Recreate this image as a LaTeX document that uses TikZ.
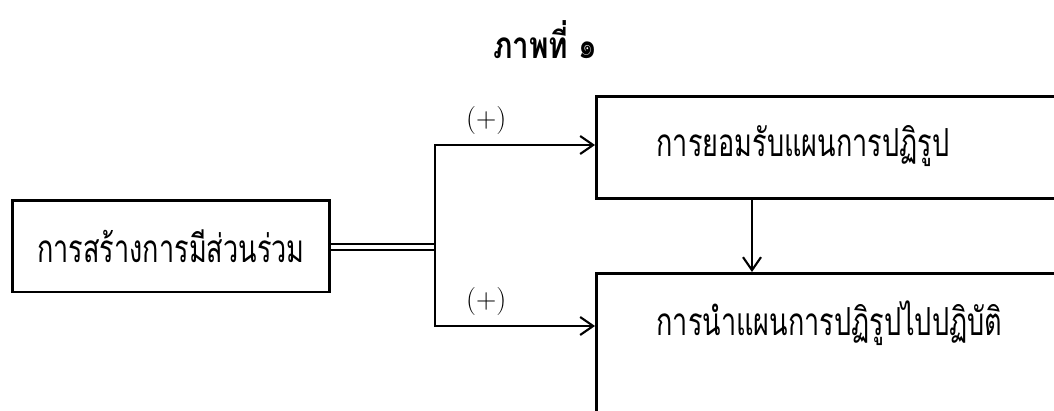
\documentclass[tikz,border=0pt]{standalone}
\usepackage{fontspec}
\newfontfamily\thaifont[Script=Thai,FakeStretch=0.70]{Loma}
\newfontfamily\thaititle[Script=Thai,FakeStretch=0.80]{Loma}
\usetikzlibrary{arrows.meta,positioning}

\begin{document}
\begin{tikzpicture}[
    x=0.02cm, y=-0.02cm,
    font=\thaifont\fontsize{22}{26}\selectfont,
    box/.style={draw, line width=1.7pt, inner sep=0pt},
    sidebox/.style={box, anchor=north west, align=left, inner xsep=1.2cm, inner ysep=0pt, text width=7.8cm},
    sign/.style={font=\fontsize{16}{19}\selectfont},
    link/.style={line width=1.2pt},
    arrow/.style={link, -{Straight Barb[length=2.6mm,width=3.6mm,line width=1.2pt]}}
]
\useasboundingbox (0,0) rectangle (1054,410);

\node[font=\thaititle\bfseries\fontsize{21}{24}\selectfont] (title) at (545,40) {ภาพที่ ๑};

\node[box, minimum width=6.36cm, minimum height=1.84cm] (create) at (171,246) {การสร้างการมีส่วนร่วม};
\node[sidebox, text height=1.2cm, text depth=0.84cm] (accept) at (595,95) {การยอมรับแผนการปฏิรูป};
\node[sidebox, text height=1.24cm, text depth=1.8cm] (implement) at (595,272) {การนำแผนการปฏิรูปไปปฏิบัติ};

\coordinate (split) at (435,247);
\coordinate (drop) at (752,0);

\draw[link, double, double distance=2.6pt] (create.east |- split) -- (split);
\draw[arrow] (split) |- node[sign, pos=0.66, above=2pt] {(+)} ([yshift=-1cm]accept.north west);
\draw[arrow] (split) |- node[sign, pos=0.66, above=2pt] {(+)} ([yshift=-1.08cm]implement.north west);
\draw[arrow] (accept.south -| drop) -- (implement.north -| drop);
\end{tikzpicture}
\end{document}
